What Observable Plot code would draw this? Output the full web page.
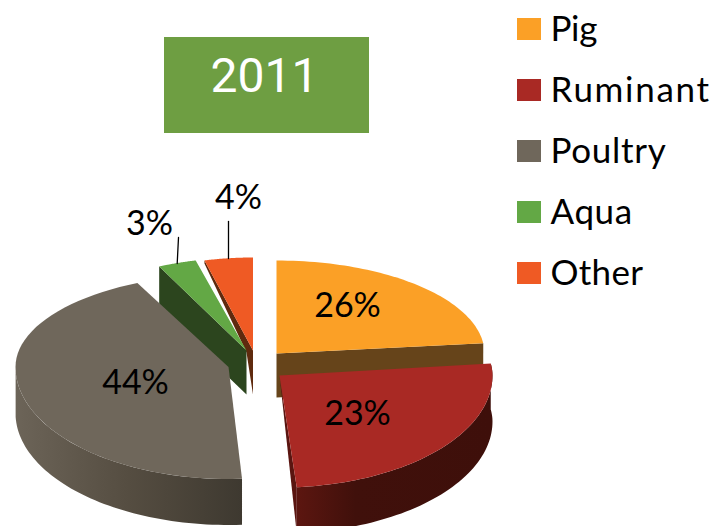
<!DOCTYPE html>
<html><head><meta charset="utf-8">
<style>html,body{margin:0;padding:0;background:#fff;overflow:hidden}svg{display:block}</style>
<script src="https://cdn.jsdelivr.net/npm/d3@7"></script>
<script src="https://cdn.jsdelivr.net/npm/@observablehq/plot@0.6"></script>
</head><body><script>
const categories = ["Pig","Ruminant","Poultry","Aqua","Other"];
const shares = [26,23,44,3,4];
const topColors = ["#fba026","#a92924","#6f675b","#63a845","#ef5a24"];
const title = "2011";
const legendTracking = [-0.3,1.7,0.7,0.6,0.3];

// layout of the exploded, tilted pie
const apexX = [276,279,228,246,252.5];
const apexY = [353,375,366.5,350,350];
const radiusX = [208,213,213,204,195];
const turn = [0,-1,0,0,0];
const backRadius = 93, frontRadius = 112, depth = 44, wallDepth = 46;
const labelX = [347,357,135,149,238];
const labelY = [306,414,383,224,198];

const rad = Math.PI/180;
const warp = d => d < 180 ? d - 10*Math.sin(d*rad)**2 : d - 4*Math.sin(d*rad)**4;
const arcs = d3.pie().sort(null).value(d=>d)(shares);
const deg = arcs.map(a=>[a.startAngle/rad,a.endAngle/rad]);
function pt(i,d,dy=0){
  const t = (warp(d)+turn[i])*rad, c = Math.cos(t);
  return {x: apexX[i]+radiusX[i]*Math.sin(t), y: apexY[i]-(c>0?backRadius:frontRadius)*c+dy};
}
function arc(i,a,b,dy=0){ return d3.range(0,61).map(k=>pt(i,a+(b-a)*k/60,dy)); }
const apex = (i,dy=0,dx=0)=>({x:apexX[i]+dx,y:apexY[i]+dy});
const poly = (pts,fill)=>Plot.line(pts,{x:"x",y:"y",fill,stroke:"none",curve:"linear"});
const top_ = i=>poly([apex(i),...arc(i,...deg[i]),apex(i)],topColors[i]);
// outer wall between two angles
const wall = (i,a,b,fill)=>poly([...arc(i,a,b),...arc(i,a,b,wallDepth).reverse()],fill);

const defs = ()=>{
  const ns="http://www.w3.org/2000/svg", d=document.createElementNS(ns,"defs");
  d.innerHTML=`<linearGradient id="poultrySide" x1="0" x2="1" y1="0" y2="0">
    <stop offset="0" stop-color="#6c6458"/><stop offset="0.5" stop-color="#554d41"/><stop offset="1" stop-color="#3e3930"/></linearGradient>
   <linearGradient id="ruminantSide" x1="0" x2="1" y1="0" y2="0">
    <stop offset="0" stop-color="#5c1610"/><stop offset="0.3" stop-color="#40100b"/><stop offset="1" stop-color="#3e0f0a"/></linearGradient>`;
  return d;
};

const marks = [
  defs,
  Plot.rect([{}],{x1:()=>164,x2:()=>369,y1:()=>37,y2:()=>133,fill:"#6e9e42"}),
  Plot.text([title],{x:()=>264,y:()=>76,text:d=>d,fill:"#fff",fontFamily:"Roboto",fontWeight:400,fontSize:48}),
  // Other
  poly([pt(4,deg[4][0]),apex(4),apex(4,depth),apex(4,2,-6.5),pt(4,deg[4][0],3)],"#5f2a0e"),
  top_(4),
  // Aqua
  poly([pt(3,deg[3][0]),apex(3),apex(3,depth),pt(3,deg[3][0],depth)],"#2c451e"),
  top_(3),
  // Poultry
  wall(2,deg[2][0],272,"url(#poultrySide)"),
  top_(2),
  // Pig
  poly([apex(0),pt(0,deg[0][1]),pt(0,deg[0][1],depth),apex(0,depth)],"#66441a"),
  top_(0),
  // Ruminant
  wall(1,deg[1][0],deg[1][1],"url(#ruminantSide)"),
  poly([apex(1),pt(1,deg[1][1]),pt(1,deg[1][1],wallDepth)],"#5a1510"),
  top_(1),
  // leaders
  Plot.line([{x:178,y:237},{x:176.7,y:263}],{x:"x",y:"y",stroke:"#000",strokeWidth:1.3}),
  Plot.line([{x:228,y:221},{x:228,y:258}],{x:"x",y:"y",stroke:"#000",strokeWidth:1.3}),
  Plot.text(shares,{x:(d,i)=>labelX[i],y:(d,i)=>labelY[i],text:d=>d+"%",fill:"#000",fontFamily:"Lato",fontSize:34}),
  // legend
  Plot.rect(categories,{x1:()=>517,x2:()=>541,y1:(d,i)=>18+61*i,y2:(d,i)=>40+61*i,fill:(d,i)=>topColors[i]}),
  Plot.text(categories,{x:()=>550,y:(d,i)=>29+61*i,text:d=>d,textAnchor:"start",fill:"#000",fontFamily:"Lato",fontSize:35})
];
const chart = Plot.plot({
  width:728,height:526,margin:0,
  x:{domain:[0,728],range:[0,728],axis:null},
  y:{domain:[0,526],range:[0,526],axis:null},
  color:{type:"identity"},
  style:{background:"#fff"},
  marks
});
d3.select(chart).selectAll("text").each(function(){
  const i = categories.indexOf(this.textContent);
  if (i>=0) this.style.letterSpacing = legendTracking[i]+"px";
});
document.body.append(chart);
</script></body></html>
